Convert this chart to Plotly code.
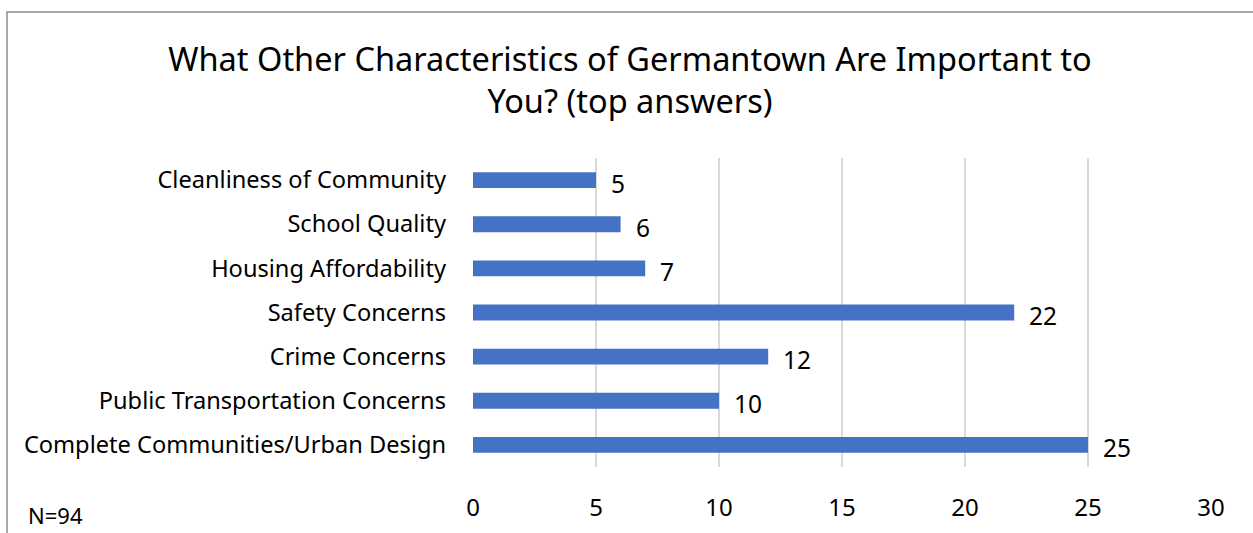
import plotly.graph_objects as go

# Survey responses (bottom-to-top order on the chart)
categories = [
    "Complete Communities/Urban Design",
    "Public Transportation Concerns",
    "Crime Concerns",
    "Safety Concerns",
    "Housing Affordability",
    "School Quality",
    "Cleanliness of Community",
]
counts = [25, 10, 12, 22, 7, 6, 5]
x_ticks = [0, 5, 10, 15, 20, 25, 30]

title_text = "What Other Characteristics of Germantown Are Important to<br>You? (top answers)"
note_text = "N=94"

FONT = "Source Sans Pro, Noto Sans, Lato, sans-serif"
BAR_COLOR = "#4472C4"

W, H = 1253, 533
L, R, T, B = 473, 42, 158, 66
pw, ph = W - L - R, H - T - B

fig = go.Figure(
    go.Bar(
        x=counts,
        y=categories,
        orientation="h",
        marker=dict(color=BAR_COLOR, line=dict(width=0)),
        width=0.36,
        hoverinfo="x+y",
    )
)

# value labels to the right of each bar
for c, v in zip(categories, counts):
    fig.add_annotation(
        x=v, y=c, xref="x", yref="y",
        text=str(v), showarrow=False,
        xanchor="left", yanchor="middle",
        xshift=13, yshift=-3,
        font=dict(family=FONT, size=24.5, color="#000000"),
    )

# sample size note
fig.add_annotation(
    x=(26 - L) / pw, y=(H - B - 515) / ph,
    xref="paper", yref="paper",
    text=note_text, showarrow=False,
    xanchor="left", yanchor="middle",
    font=dict(family=FONT, size=22, color="#000000"),
)

# chart frame
fig.add_shape(
    type="rect", xref="paper", yref="paper",
    x0=(7 - L) / pw, x1=(W + 20 - L) / pw,
    y0=(H - B - (H + 20)) / ph, y1=(H - B - 12) / ph,
    line=dict(color="#8a8a8a", width=1.5),
    fillcolor="rgba(0,0,0,0)",
    layer="below",
)

fig.update_layout(
    width=W, height=H,
    margin=dict(l=L, r=R, t=T, b=B, autoexpand=False),
    paper_bgcolor="white",
    plot_bgcolor="white",
    showlegend=False,
    title=dict(
        text=title_text,
        x=630 / W, xref="container", xanchor="center",
        y=(H - 71) / H, yref="container", yanchor="middle",
        font=dict(family=FONT, size=32.5, color="#000000"),
    ),
    font=dict(family=FONT, color="#000000"),
    bargap=0.64,
)

fig.update_xaxes(
    range=[0, 30],
    tickvals=x_ticks,
    ticktext=[str(t) for t in x_ticks],
    showgrid=True, gridcolor="#d9d9d9", gridwidth=1.5,
    zeroline=False, showline=False,
    ticks="", ticklabelstandoff=24,
    tickfont=dict(family=FONT, size=24, color="#000000"),
    fixedrange=True,
)
fig.update_yaxes(
    categoryorder="array", categoryarray=categories,
    showgrid=False, zeroline=False, showline=False,
    ticks="", ticklabelstandoff=26,
    tickfont=dict(family=FONT, size=23.6, color="#000000"),
    fixedrange=True,
)

fig.write_html("out.html")
